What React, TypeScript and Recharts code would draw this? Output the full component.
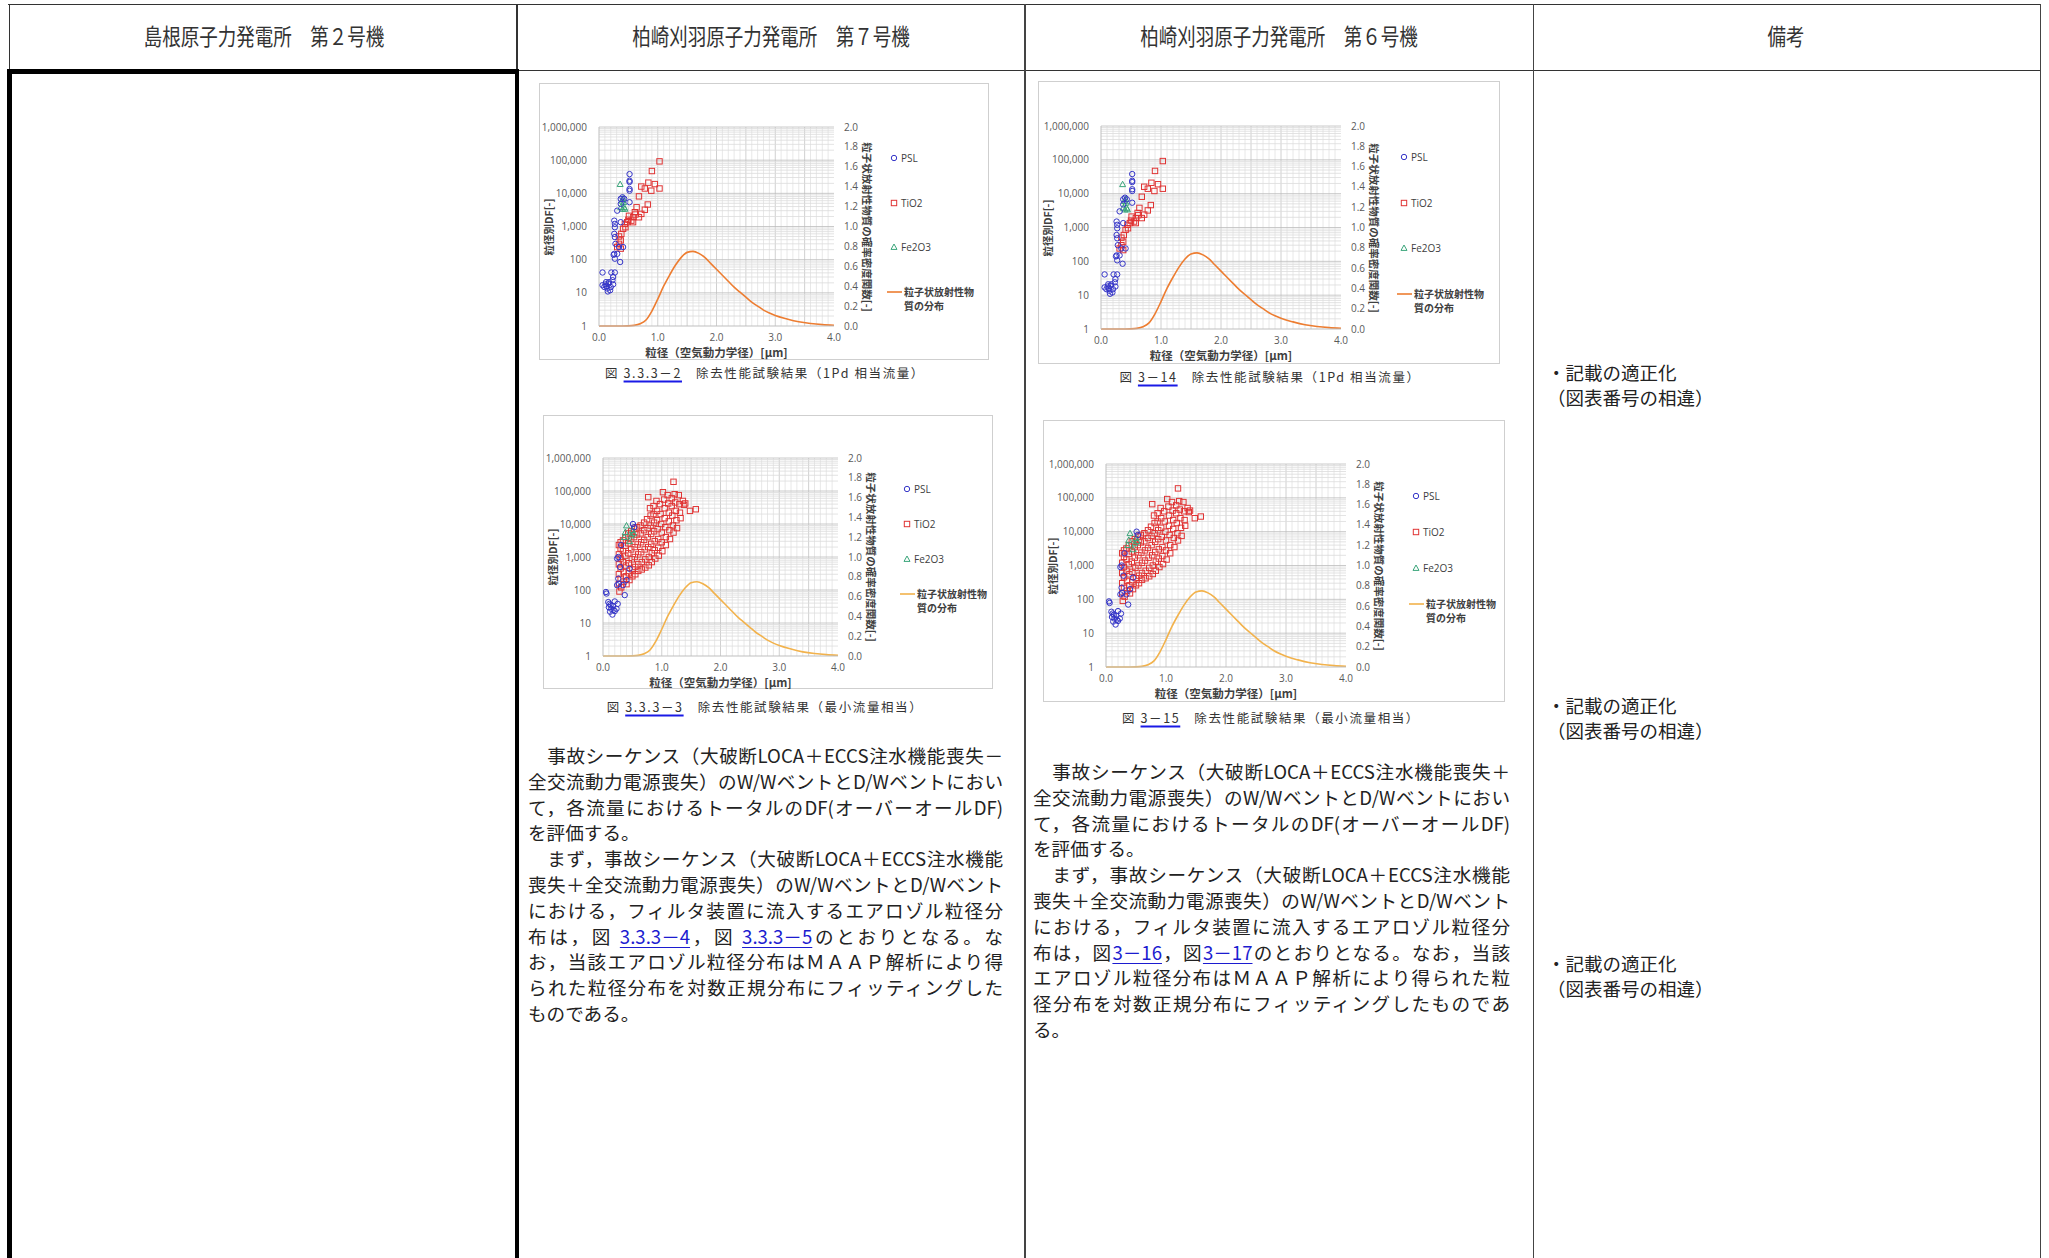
import React from "react";
import { ComposedChart, Line, ReferenceLine, Scatter, XAxis, YAxis } from "recharts";

// axis ticks
const X_TICKS = [0, 1, 2, 3, 4];
const DF_TICKS = [1, 10, 100, 1000, 10000, 100000, 1000000];
const PDF_TICKS = [0, 0.2, 0.4, 0.6, 0.8, 1.0, 1.2, 1.4, 1.6, 1.8, 2.0];

// particle size distribution curve (right axis)
const CURVE_X = [0, 0.2, 0.4, 0.5, 0.6, 0.7, 0.8, 0.9, 1.0, 1.1, 1.2, 1.3, 1.4, 1.5, 1.6, 1.7, 1.8, 1.9, 2.0, 2.1, 2.2, 2.3, 2.4, 2.5, 2.6, 2.7, 2.8, 2.9, 3.0, 3.2, 3.4, 3.6, 3.8, 4.0];
const CURVE_P = [0, 0, 0, 0.001, 0.006, 0.022, 0.06, 0.15, 0.27, 0.4, 0.51, 0.61, 0.69, 0.74, 0.75, 0.73, 0.69, 0.63, 0.57, 0.51, 0.45, 0.39, 0.34, 0.29, 0.24, 0.2, 0.16, 0.13, 0.105, 0.07, 0.042, 0.025, 0.014, 0.008];

// 1Pd flow: [particle size, DF]
const PSL_1PD: [number, number][] = [
  [0.06, 41], [0.06, 17], [0.09, 15], [0.11, 18], [0.12, 21], [0.14, 13.5], [0.15, 11], [0.17, 21], [0.19, 12],
  [0.2, 15], [0.23, 24], [0.24, 18], [0.13, 16], [0.16, 19], [0.21, 41], [0.27, 41], [0.24, 30], [0.26, 150],
  [0.27, 107], [0.31, 150], [0.36, 85], [0.26, 1500], [0.27, 1200], [0.27, 950], [0.26, 600], [0.27, 480],
  [0.28, 300], [0.31, 3000], [0.37, 6800], [0.4, 7600], [0.37, 4800], [0.43, 6800], [0.52, 38000], [0.52, 24000],
  [0.52, 22000], [0.52, 13500], [0.52, 12000], [0.52, 5400], [0.41, 240], [0.34, 240], [0.37, 1350], [0.25, 140],
];
const TIO2_1PD: [number, number][] = [
  [1.03, 92000], [0.9, 47000], [0.84, 21000], [0.72, 16000], [0.78, 14000], [0.89, 12000], [0.95, 19000],
  [1.03, 14000], [0.68, 8100], [0.83, 4600], [0.78, 3200], [0.64, 3800], [0.61, 2700], [0.68, 1900], [0.58, 1900],
  [0.51, 2100], [0.55, 1500], [0.48, 1350], [0.44, 1200], [0.41, 850], [0.38, 600], [0.37, 380], [0.34, 300],
  [0.31, 240], [0.37, 215], [0.45, 950], [0.5, 1600], [0.58, 1350], [0.62, 2300], [0.72, 2400], [0.34, 500],
];
const FE2O3_1PD: [number, number][] = [
  [0.36, 19000], [0.39, 6000], [0.4, 3400], [0.37, 3800], [0.43, 3800], [0.42, 5400], [0.44, 3400], [0.41, 7000],
];

// minimum flow
const PSL_MIN: [number, number][] = [
  [0.05, 87], [0.06, 78], [0.09, 43], [0.11, 38], [0.12, 22], [0.14, 27], [0.16, 18], [0.17, 33], [0.2, 23],
  [0.23, 27], [0.25, 38], [0.2, 45], [0.1, 30], [0.13, 35], [0.18, 25], [0.24, 900], [0.26, 1000], [0.26, 220],
  [0.24, 140], [0.27, 155], [0.37, 70], [0.31, 2300], [0.51, 10000], [0.53, 8000], [0.45, 440], [0.4, 200],
  [0.34, 140], [0.29, 500],
];
const TIO2_MIN: [number, number][] = [
  [0.27, 2300], [0.27, 1200], [0.27, 600], [0.27, 300], [0.27, 150], [0.28, 90],
  [0.3, 2800], [0.3, 1800], [0.3, 900], [0.3, 450], [0.3, 220], [0.31, 120],
  [0.34, 3200], [0.34, 1500], [0.34, 700], [0.35, 350], [0.35, 180],
  [0.38, 4000], [0.38, 2200], [0.38, 1100], [0.39, 550], [0.39, 260], [0.4, 150],
  [0.43, 5200], [0.43, 2600], [0.43, 1300], [0.44, 650], [0.44, 320], [0.45, 200],
  [0.48, 6000], [0.48, 3500], [0.48, 1700], [0.49, 850], [0.5, 420], [0.5, 260],
  [0.53, 7200], [0.53, 4000], [0.54, 2000], [0.54, 1000], [0.55, 500], [0.55, 300],
  [0.58, 8000], [0.58, 4800], [0.59, 2400], [0.6, 1200], [0.6, 600], [0.6, 380],
  [0.64, 9000], [0.64, 5200], [0.65, 2800], [0.65, 1400], [0.66, 700], [0.66, 420],
  [0.7, 11000], [0.7, 6500], [0.7, 3300], [0.71, 1700], [0.72, 850], [0.72, 480],
  [0.75, 14000], [0.76, 7500], [0.76, 4000], [0.77, 2000], [0.77, 65000], [0.78, 1000], [0.78, 560],
  [0.8, 30000], [0.81, 18000], [0.81, 9000], [0.82, 5000], [0.82, 2500], [0.83, 1300], [0.83, 700],
  [0.86, 35000], [0.86, 20000], [0.87, 11000], [0.87, 6000], [0.88, 3000], [0.88, 1600], [0.89, 900],
  [0.91, 50000], [0.92, 25000], [0.92, 13000], [0.93, 7000], [0.94, 3500], [0.94, 1900], [0.95, 1100],
  [0.97, 40000], [0.98, 20000], [0.99, 10000], [1.0, 5500], [1.0, 2800], [1.01, 1500],
  [1.02, 92000], [1.04, 55000], [1.05, 30000], [1.05, 15000], [1.06, 8000], [1.07, 4000], [1.07, 2300],
  [1.1, 75000], [1.11, 42000], [1.12, 22000], [1.12, 12000], [1.13, 6500], [1.14, 3500],
  [1.17, 60000], [1.17, 35000], [1.18, 18000], [1.19, 9000], [1.2, 5500],
  [1.2, 190000], [1.22, 80000], [1.23, 45000], [1.24, 25000], [1.25, 13000], [1.26, 7500],
  [1.29, 75000], [1.3, 40000], [1.31, 22000], [1.32, 15000],
  [1.36, 50000], [1.38, 38000], [1.4, 42000], [1.48, 25000], [1.58, 28000],
];
const FE2O3_MIN: [number, number][] = [
  [0.4, 9000], [0.38, 5700], [0.36, 4000], [0.5, 6500], [0.48, 4500], [0.45, 3000], [0.52, 5200],
];

const PSL_COLOR = "#3535c8";
const TIO2_COLOR = "#e03434";
const FE_COLOR = "#3aa57a";
const LINE_1PD = "#ed7d31";
const LINE_MIN = "#f2b24c";
const JP = "'Noto Sans CJK JP', 'Noto Sans', sans-serif";
const NUM = "'Open Sans', 'Noto Sans', sans-serif";

const curve = CURVE_X.map((x, i) => ({ x, p: CURVE_P[i] }));
const toPts = (arr: [number, number][]) => arr.map(([x, y]) => ({ x, y }));

// grid values (style only)
const X_GRID: number[] = [];
for (let i = 1; i < 40; i++) X_GRID.push(i / 10);
const DF_GRID: number[] = [];
for (let k = 0; k < 6; k++) for (let m = 2; m <= 10; m++) DF_GRID.push(m * Math.pow(10, k));

const circleShape = (props: any) => (
  <circle cx={props.cx} cy={props.cy} r={2.7} fill="none" stroke={PSL_COLOR} strokeWidth={1} />
);
const squareShape = (props: any) => (
  <rect x={props.cx - 2.7} y={props.cy - 2.7} width={5.4} height={5.4} fill="none" stroke={TIO2_COLOR} strokeWidth={1} />
);
const triShape = (props: any) => (
  <path
    d={`M${props.cx},${props.cy - 3} L${props.cx + 3},${props.cy + 2.4} L${props.cx - 3},${props.cy + 2.4} Z`}
    fill="none"
    stroke={FE_COLOR}
    strokeWidth={1}
  />
);

type PanelProps = {
  left: number;
  top: number;
  width: number;
  height: number;
  plot: [number, number, number, number]; // left, top, right, bottom inside the box
  psl: [number, number][];
  tio2: [number, number][];
  fe: [number, number][];
  lineColor: string;
  legendX: number;
  legendY: number[];
};

function Panel({ left, top, width, height, plot, psl, tio2, fe, lineColor, legendX, legendY }: PanelProps) {
  const [pl, pt, pr, pb] = plot;
  const leftW = 50;
  const rightW = 30;
  const xH = 20;
  const midY = (pt + pb) / 2;
  const label = { position: "absolute" as const, fontFamily: JP, fontWeight: 700, color: "#404040", whiteSpace: "nowrap" as const };
  const legendText = { position: "absolute" as const, fontFamily: NUM, fontSize: 10, color: "#404040", whiteSpace: "nowrap" as const };
  return (
    <div style={{ position: "absolute", left, top, width, height }}>
      <div style={{ position: "absolute", left: 0, top: 0, width, height, border: "1.5px solid #cfcfcf", boxSizing: "border-box" }} />
      <ComposedChart
        width={width}
        height={height}
        margin={{ top: pt, left: pl - leftW, right: width - pr - rightW, bottom: height - pb - xH }}
      >
        <XAxis
          dataKey="x"
          type="number"
          domain={[0, 4]}
          ticks={X_TICKS}
          tickFormatter={(v) => Number(v).toFixed(1)}
          height={xH}
          tickLine={false}
          axisLine={{ stroke: "#bfbfbf" }}
          tick={{ fontSize: 10, fill: "#595959", fontFamily: NUM }}
          allowDataOverflow
        />
        <YAxis
          yAxisId="df"
          scale="log"
          domain={[1, 1000000]}
          ticks={DF_TICKS}
          tickFormatter={(v) => Number(v).toLocaleString("en-US")}
          width={leftW}
          tickLine={false}
          tickMargin={6}
          axisLine={{ stroke: "#bfbfbf" }}
          tick={{ fontSize: 10, fill: "#595959", fontFamily: NUM }}
          allowDataOverflow
        />
        <YAxis
          yAxisId="pdf"
          orientation="right"
          domain={[0, 2]}
          ticks={PDF_TICKS}
          tickFormatter={(v) => Number(v).toFixed(1)}
          width={rightW}
          tickLine={false}
          tickMargin={4}
          axisLine={false}
          tick={{ fontSize: 10, fill: "#595959", fontFamily: NUM }}
        />
        {X_GRID.map((v) => (
          <ReferenceLine
            key={"x" + v}
            x={v}
            yAxisId="df"
            stroke={Math.round(v * 10) % 5 === 0 ? "#c4c4c4" : "#e2e2e2"}
            strokeWidth={0.8}
          />
        ))}
        {DF_GRID.map((v) => (
          <ReferenceLine
            key={"y" + v}
            y={v}
            yAxisId="df"
            stroke={String(v).startsWith("1") ? "#bdbdbd" : "#dcdcdc"}
            strokeWidth={0.8}
          />
        ))}
        <Line
          data={curve}
          dataKey="p"
          yAxisId="pdf"
          type="monotone"
          stroke={lineColor}
          strokeWidth={1.6}
          dot={false}
          isAnimationActive={false}
        />
        <Scatter data={toPts(tio2)} dataKey="y" yAxisId="df" shape={squareShape} isAnimationActive={false} />
        <Scatter data={toPts(fe)} dataKey="y" yAxisId="df" shape={triShape} isAnimationActive={false} />
        <Scatter data={toPts(psl)} dataKey="y" yAxisId="df" shape={circleShape} isAnimationActive={false} />
      </ComposedChart>

      <div style={{ ...label, fontSize: 10.5, left: 9, top: midY, transform: "translate(-50%, -50%) rotate(-90deg)" }}>粒径別DF[-]</div>
      <div style={{ ...label, fontSize: 10.5, left: pr + 33, top: midY, transform: "translate(-50%, -50%) rotate(90deg)" }}>
        粒子状放射性物質の確率密度関数[-]
      </div>
      <div style={{ ...label, fontSize: 11.5, left: (pl + pr) / 2, top: pb + 26, transform: "translate(-50%, -50%)" }}>
        粒径（空気動力学径）[μm]
      </div>

      <svg style={{ position: "absolute", left: 0, top: 0 }} width={width} height={height}>
        <circle cx={pr + legendX} cy={pt + legendY[0]} r={2.7} fill="none" stroke={PSL_COLOR} />
        <rect x={pr + legendX - 2.7} y={pt + legendY[1] - 2.7} width={5.4} height={5.4} fill="none" stroke={TIO2_COLOR} />
        <path
          d={`M${pr + legendX},${pt + legendY[2] - 3} l3,5.4 l-6,0 Z`}
          fill="none"
          stroke={FE_COLOR}
        />
        <line x1={pr + legendX - 7} x2={pr + legendX + 8} y1={pt + legendY[3]} y2={pt + legendY[3]} stroke={lineColor} strokeWidth={1.6} />
      </svg>
      <div style={{ ...legendText, left: pr + legendX + 7, top: pt + legendY[0] - 7 }}>PSL</div>
      <div style={{ ...legendText, left: pr + legendX + 7, top: pt + legendY[1] - 7 }}>TiO2</div>
      <div style={{ ...legendText, left: pr + legendX + 7, top: pt + legendY[2] - 7 }}>Fe2O3</div>
      <div style={{ ...legendText, fontFamily: JP, fontWeight: 700, lineHeight: "13.5px", left: pr + legendX + 10, top: pt + legendY[3] - 7 }}>
        粒子状放射性物
        <br />
        質の分布
      </div>
    </div>
  );
}

function Caption({ cx, cy, fig, title }: { cx: number; cy: number; fig: string; title: string }) {
  return (
    <div
      style={{
        position: "absolute",
        left: cx,
        top: cy,
        transform: "translate(-50%, -50%)",
        fontFamily: JP,
        fontSize: 12.5,
        letterSpacing: 1.6,
        color: "#333",
        whiteSpace: "nowrap",
      }}
    >
      図 <span style={{ textDecoration: "underline", textDecorationColor: "#1a1ae6", textDecorationThickness: 1.5, textUnderlineOffset: 3 }}>{fig}</span>
      {"　" + title}
    </div>
  );
}

type Seg = { t: string; link?: boolean };
const COL2_LINES: { segs: Seg[]; last?: boolean }[] = [
  { segs: [{ t: "　事故シーケンス（大破断LOCA＋ECCS注水機能喪失－" }] },
  { segs: [{ t: "全交流動力電源喪失）のW/WベントとD/Wベントにおい" }] },
  { segs: [{ t: "て，各流量におけるトータルのDF(オーバーオールDF)" }] },
  { segs: [{ t: "を評価する。" }], last: true },
  { segs: [{ t: "　まず，事故シーケンス（大破断LOCA＋ECCS注水機能" }] },
  { segs: [{ t: "喪失＋全交流動力電源喪失）のW/WベントとD/Wベント" }] },
  { segs: [{ t: "における，フィルタ装置に流入するエアロゾル粒径分" }] },
  { segs: [{ t: "布は，図 " }, { t: "3.3.3－4", link: true }, { t: "，図 " }, { t: "3.3.3－5", link: true }, { t: "のとおりとなる。な" }] },
  { segs: [{ t: "お，当該エアロゾル粒径分布はＭＡＡＰ解析により得" }] },
  { segs: [{ t: "られた粒径分布を対数正規分布にフィッティングした" }] },
  { segs: [{ t: "ものである。" }], last: true },
];
const COL3_LINES: { segs: Seg[]; last?: boolean }[] = [
  { segs: [{ t: "　事故シーケンス（大破断LOCA＋ECCS注水機能喪失＋" }] },
  { segs: [{ t: "全交流動力電源喪失）のW/WベントとD/Wベントにおい" }] },
  { segs: [{ t: "て，各流量におけるトータルのDF(オーバーオールDF)" }] },
  { segs: [{ t: "を評価する。" }], last: true },
  { segs: [{ t: "　まず，事故シーケンス（大破断LOCA＋ECCS注水機能" }] },
  { segs: [{ t: "喪失＋全交流動力電源喪失）のW/WベントとD/Wベント" }] },
  { segs: [{ t: "における，フィルタ装置に流入するエアロゾル粒径分" }] },
  { segs: [{ t: "布は，図" }, { t: "3－16", link: true }, { t: "，図" }, { t: "3－17", link: true }, { t: "のとおりとなる。なお，当該" }] },
  { segs: [{ t: "エアロゾル粒径分布はＭＡＡＰ解析により得られた粒" }] },
  { segs: [{ t: "径分布を対数正規分布にフィッティングしたものであ" }] },
  { segs: [{ t: "る。" }], last: true },
];

function Body({ left, top, width, lines }: { left: number; top: number; width: number; lines: { segs: Seg[]; last?: boolean }[] }) {
  return (
    <div style={{ position: "absolute", left, top, width, fontFamily: JP, fontSize: 18.6, lineHeight: "25.8px", color: "#222" }}>
      {lines.map((ln, i) => (
        <div key={i} style={{ height: 25.8, textAlign: "justify", textAlignLast: ln.last ? "left" : "justify", overflow: "visible" }}>
          {ln.segs.map((s, j) =>
            s.link ? (
              <span key={j} style={{ color: "#1c1cd0", textDecoration: "underline", textUnderlineOffset: 3 }}>
                {s.t}
              </span>
            ) : (
              <span key={j}>{s.t}</span>
            )
          )}
        </div>
      ))}
    </div>
  );
}

const HEADERS = [
  { t: "島根原子力発電所　第２号機", cx: 264 },
  { t: "柏崎刈羽原子力発電所　第７号機", cx: 771 },
  { t: "柏崎刈羽原子力発電所　第６号機", cx: 1279 },
  { t: "備考", cx: 1786 },
];
const REMARK_Y = [372, 705, 963];

export default function App() {
  const line = (l: number, t: number, w: number, h: number, c = "#222") => (
    <div style={{ position: "absolute", left: l, top: t, width: w, height: h, background: c }} />
  );
  return (
    <div style={{ position: "absolute", left: 0, top: 0, width: 2049, height: 1258, overflow: "hidden", background: "#fff" }}>
      {/* table rules */}
      {line(8, 3.5, 2033, 1.5, "#333")}
      {line(8.5, 3.5, 1.5, 67, "#333")}
      {line(517, 69.5, 1524, 1.5, "#333")}
      {line(7, 69, 512, 4.5, "#000")}
      {line(7, 69, 4.5, 1200, "#000")}
      {line(516, 3.5, 1.5, 67, "#333")}
      {line(515, 69, 4, 1200, "#000")}
      {line(1024, 3.5, 1.5, 1260, "#444")}
      {line(1532.5, 3.5, 1.5, 1260, "#444")}
      {line(2039.5, 3.5, 1.5, 1260, "#444")}

      {HEADERS.map((h) => (
        <div
          key={h.t}
          style={{
            position: "absolute",
            left: h.cx,
            top: 35,
            transform: "translate(-50%, -50%) scaleY(1.22)",
            fontFamily: JP,
            fontSize: 18.5,
            color: "#333",
            whiteSpace: "nowrap",
          }}
        >
          {h.t}
        </div>
      ))}

      <Panel
        left={539}
        top={83}
        width={450}
        height={277}
        plot={[60, 44, 295, 243]}
        psl={PSL_1PD}
        tio2={TIO2_1PD}
        fe={FE2O3_1PD}
        lineColor={LINE_1PD}
        legendX={60}
        legendY={[31, 76, 120, 165]}
      />
      <Caption cx={765} cy={372} fig="3.3.3－2" title="除去性能試験結果（1Pd 相当流量）" />

      <Panel
        left={543}
        top={415}
        width={450}
        height={274}
        plot={[60, 43, 295, 241]}
        psl={PSL_MIN}
        tio2={TIO2_MIN}
        fe={FE2O3_MIN}
        lineColor={LINE_MIN}
        legendX={69}
        legendY={[31, 66, 101, 136]}
      />
      <Caption cx={765} cy={706} fig="3.3.3－3" title="除去性能試験結果（最小流量相当）" />

      <Panel
        left={1038}
        top={81}
        width={462}
        height={283}
        plot={[63, 45, 303, 248]}
        psl={PSL_1PD}
        tio2={TIO2_1PD}
        fe={FE2O3_1PD}
        lineColor={LINE_1PD}
        legendX={63}
        legendY={[31, 77, 122, 168]}
      />
      <Caption cx={1270} cy={376} fig="3－14" title="除去性能試験結果（1Pd 相当流量）" />

      <Panel
        left={1043}
        top={420}
        width={462}
        height={282}
        plot={[63, 44, 303, 247]}
        psl={PSL_MIN}
        tio2={TIO2_MIN}
        fe={FE2O3_MIN}
        lineColor={LINE_MIN}
        legendX={70}
        legendY={[32, 68, 104, 140]}
      />
      <Caption cx={1271} cy={717} fig="3－15" title="除去性能試験結果（最小流量相当）" />

      <Body left={528} top={742} width={475} lines={COL2_LINES} />
      <Body left={1033} top={758} width={477} lines={COL3_LINES} />

      {REMARK_Y.map((y) => (
        <div key={y} style={{ position: "absolute", left: 1547, top: y - 12.5, fontFamily: JP, fontSize: 18.5, lineHeight: "25px", color: "#222", whiteSpace: "nowrap" }}>
          ・記載の適正化
          <br />
          （図表番号の相違）
        </div>
      ))}
    </div>
  );
}
